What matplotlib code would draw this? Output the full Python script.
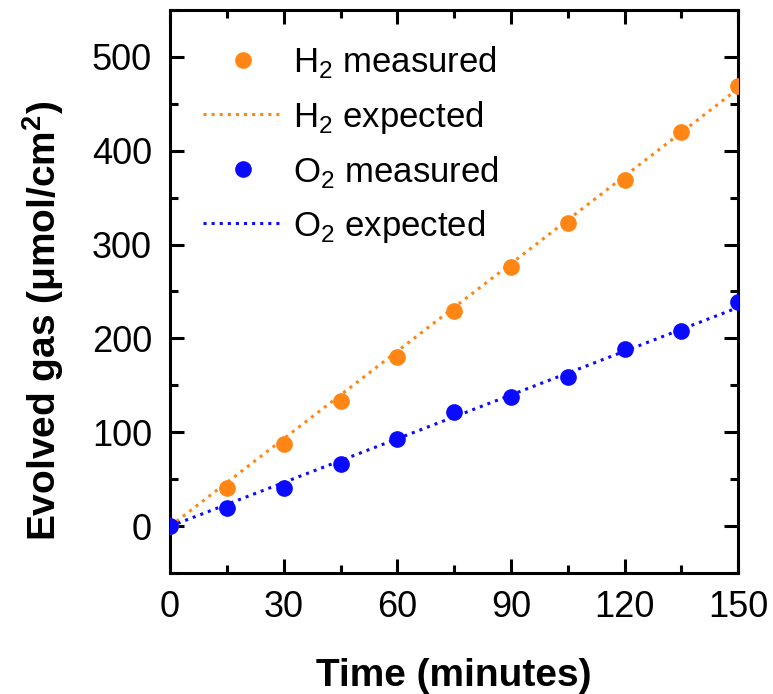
import numpy as np
import matplotlib.pyplot as plt
from matplotlib.ticker import MultipleLocator

plt.rcParams['font.family'] = ['Liberation Sans', 'DejaVu Sans']
plt.rcParams['mathtext.fontset'] = 'custom'
plt.rcParams['mathtext.rm'] = 'Liberation Sans'
plt.rcParams['mathtext.bf'] = 'Liberation Sans:bold'

time_min = [0, 15, 30, 45, 60, 75, 90, 105, 120, 135, 150]
h2_measured = [0, 41, 88, 133, 180, 229, 276, 323, 369, 420, 469]
o2_measured = [0, 19, 41, 66, 93, 122, 138, 159, 189, 208, 239]
expected_t = [0, 150]
h2_expected = [0, 466]
o2_expected = [0, 233]

orange = '#ff8514'
blue = '#0a0aff'

fig = plt.figure(figsize=(7.73, 6.94), dpi=100)
ax = fig.add_axes([0.22, 0.174, 0.735, 0.812])

ax.plot(time_min, h2_measured, 'o', color=orange, ms=11, label='H$_2$ measured', zorder=3)
ax.plot(expected_t, h2_expected, ':', color=orange, lw=2.2, label='H$_2$ expected')
ax.plot(time_min, o2_measured, 'o', color=blue, ms=11, label='O$_2$ measured', zorder=3)
ax.plot(expected_t, o2_expected, ':', color=blue, lw=2.2, label='O$_2$ expected')

ax.set_xlim(0, 150)
ax.set_ylim(-50, 550)
ax.xaxis.set_major_locator(MultipleLocator(30))
ax.xaxis.set_minor_locator(MultipleLocator(15))
ax.yaxis.set_major_locator(MultipleLocator(100))
ax.yaxis.set_minor_locator(MultipleLocator(50))
ax.tick_params(which='both', direction='in', top=True, right=True, width=2.2)
ax.tick_params(which='major', length=10, labelsize=26)
ax.tick_params(axis='y', which='major', pad=13)
ax.tick_params(axis='x', which='major', pad=12)
ax.tick_params(which='minor', length=6)
for s in ax.spines.values():
    s.set_linewidth(2.2)

ax.set_xlabel('Time (minutes)', fontsize=28, fontweight='bold', labelpad=24)
ax.set_ylabel('Evolved gas (μmol/cm$\\mathbf{^2}$)', fontsize=28, fontweight='bold')
ax.yaxis.set_label_coords(-0.183, 0.448)

ax.legend(loc='upper left', frameon=False, fontsize=25, handlelength=2.3,
          labelspacing=0.52, borderaxespad=0, bbox_to_anchor=(0.033, 0.963),
          handletextpad=0.3)

fig.savefig('out.png', dpi=100)
